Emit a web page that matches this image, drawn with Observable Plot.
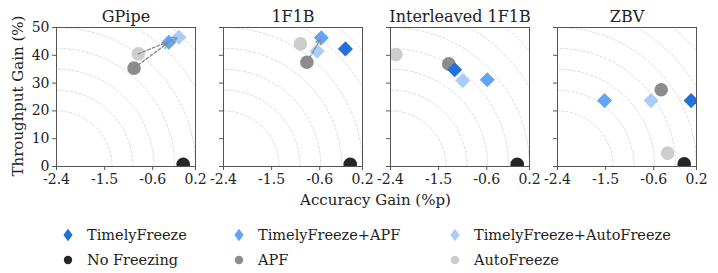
<!DOCTYPE html>
<html>
<head>
<meta charset="utf-8">
<script src="https://cdn.jsdelivr.net/npm/d3@7"></script>
<script src="https://cdn.jsdelivr.net/npm/@observablehq/plot@0.6"></script>
<style>
  body { margin: 0; background: #fff; }
  #wrap { position: relative; width: 718px; height: 273px; font-family: "DejaVu Serif", serif; color: #222; }
  #chart { position: absolute; left: 0; top: 0; }
  #xlabel { position: absolute; left: 54px; width: 643px; top: 191px; text-align: center; font-size: 15px; }
  #ylabel { position: absolute; left: 18px; top: 96px; transform: translate(-50%, -50%) rotate(-90deg); white-space: nowrap; font-size: 15px; }
  #legend { position: absolute; left: 62px; top: 224px; display: grid; grid-template-columns: 171px 216px auto; row-gap: 4px; font-size: 14.5px; }
  .item { display: flex; align-items: center; height: 21px; }
  .item svg { margin-right: 13px; }
</style>
</head>
<body>
<div id="wrap">
  <div id="chart"></div>
  <div id="ylabel">Throughput Gain (%)</div>
  <div id="xlabel">Accuracy Gain (%p)</div>
  <div id="legend"></div>
</div>
<script>
// ---- data ----
const panels = ["GPipe", "1F1B", "Interleaved 1F1B", "ZBV"];
const xTicks = [-2.4, -1.5, -0.6, 0.2];
const yTicks = [0, 10, 20, 30, 40, 50];

// accuracy gain (%p) and throughput gain (%) per panel, in panel order
const tfAutoAcc = [-0.11, -0.65, -1.05, -0.65];
const tfAutoThr = [46.5, 41.5, 30.9, 23.7];
const autoFreezeAcc = [-0.87, -0.96, -2.30, -0.34];
const autoFreezeThr = [40.5, 44.1, 40.3, 4.8];
const tfApfAcc = [-0.30, -0.57, -0.59, -1.52];
const tfApfThr = [44.7, 46.3, 31.2, 23.7];
const apfAcc = [-0.95, -0.84, -1.31, -0.46];
const apfThr = [35.4, 37.5, 36.9, 27.6];
const tfAcc = [null, -0.12, -1.20, 0.10];
const tfThr = [null, 42.3, 34.8, 23.7];
const noFreezeAcc = [-0.03, -0.03, -0.03, -0.03];
const noFreezeThr = [0.8, 0.8, 0.8, 1.0];

// dashed arrows: panel, from-series, to-series
const arrowPanels = ["GPipe", "GPipe", "1F1B"];
const arrowFrom = ["APF", "AutoFreeze", "APF"];
const arrowTo = ["TimelyFreeze+APF", "TimelyFreeze+AutoFreeze", "TimelyFreeze+APF"];

// reference arcs (fractions of the axes box)
const gridRadii = [0.4, 0.55, 0.7, 0.85, 1.0, 1.15, 1.3];

// ---- styles ----
const legendOrder = ["TimelyFreeze", "TimelyFreeze+APF", "TimelyFreeze+AutoFreeze", "No Freezing", "APF", "AutoFreeze"];
const legendColors = ["#2370d8", "#62a4f5", "#a9cdfa", "#262626", "#8c8c8c", "#cdcdcd"];
const legendSymbols = ["diamond2", "diamond2", "diamond2", "circle", "circle", "circle"];

// ---- build table ----
const seriesDefs = [
  ["TimelyFreeze+AutoFreeze", tfAutoAcc, tfAutoThr],
  ["AutoFreeze", autoFreezeAcc, autoFreezeThr],
  ["TimelyFreeze+APF", tfApfAcc, tfApfThr],
  ["APF", apfAcc, apfThr],
  ["TimelyFreeze", tfAcc, tfThr],
  ["No Freezing", noFreezeAcc, noFreezeThr]
];
const rows = seriesDefs.flatMap(([name, acc, thr]) =>
  panels.map((p, i) => ({panel: p, series: name, x: acc[i], y: thr[i]}))
).filter(d => d.x != null && d.y != null);

const find = (p, s) => rows.find(d => d.panel === p && d.series === s);
const arrows = arrowPanels.map((p, i) => {
  const a = find(p, arrowFrom[i]), b = find(p, arrowTo[i]);
  return {panel: p, x1: a.x, y1: a.y, x2: b.x, y2: b.y};
});

const x0 = xTicks[0], xSpan = xTicks[xTicks.length - 1] - xTicks[0], ySpan = yTicks[yTicks.length - 1];
const arcs = gridRadii.flatMap(r => d3.range(0, 90.01, 1.5).map(a => ({
  r, x: x0 + r * xSpan * Math.cos(a * Math.PI / 180), y: r * ySpan * Math.sin(a * Math.PI / 180)
})));

const chart = Plot.plot({
  width: 718,
  height: 215,
  marginLeft: 54,
  marginRight: 21,
  marginTop: 27,
  marginBottom: 49,
  style: {fontFamily: "DejaVu Serif", fontSize: "14px", color: "#222", background: "transparent"},
  fx: {domain: panels, padding: 0.17, label: null},
  x: {domain: [xTicks[0], xTicks[xTicks.length - 1]]},
  y: {domain: [0, ySpan]},
  symbol: {domain: legendOrder, range: legendSymbols},
  color: {domain: legendOrder, range: legendColors},
  marks: [
    Plot.line(arcs, {x: "x", y: "y", z: "r", stroke: "#d4d4d4", strokeWidth: 0.8, strokeDasharray: "2.5,2", clip: true}),
    Plot.dot(rows, {fx: "panel", x: "x", y: "y", symbol: "series", fill: "series", r: 6.8, clip: true}),
    Plot.arrow(arrows, {fx: "panel", x1: "x1", y1: "y1", x2: "x2", y2: "y2", stroke: "#888", strokeWidth: 1.3, strokeDasharray: "3,2", headLength: 6, insetEnd: 2}),
    Plot.frame({stroke: "#555", strokeWidth: 1}),
    Plot.axisFx({anchor: "top", label: null, tickSize: 0, tickPadding: 6, fontSize: 16}),
    Plot.axisX({ticks: xTicks, tickFormat: d => d.toFixed(1), tickSize: 4, tickPadding: 4, fontSize: 14, label: null, stroke: "#555"}),
    Plot.axisY({ticks: yTicks, tickFormat: () => "", tickSize: 4, label: null, facetAnchor: null, stroke: "#555"}),
    Plot.axisY({ticks: yTicks, tickSize: 0, tickPadding: 7, fontSize: 14, label: null})
  ]
});
document.getElementById("chart").appendChild(chart);

// ---- legend ----
const legend = document.getElementById("legend");
legendOrder.forEach((name, i) => {
  const item = document.createElement("div");
  item.className = "item";
  const isDiamond = legendSymbols[i] === "diamond2";
  const svg = isDiamond
    ? `<svg width="12" height="14" viewBox="-6 -7 12 14"><path d="M0,-6.2L4.6,0L0,6.2L-4.6,0Z" fill="${legendColors[i]}"/></svg>`
    : `<svg width="12" height="14" viewBox="-6 -7 12 14"><circle r="4.2" fill="${legendColors[i]}"/></svg>`;
  item.innerHTML = svg + `<span>${name}</span>`;
  legend.appendChild(item);
});
</script>
</body>
</html>
